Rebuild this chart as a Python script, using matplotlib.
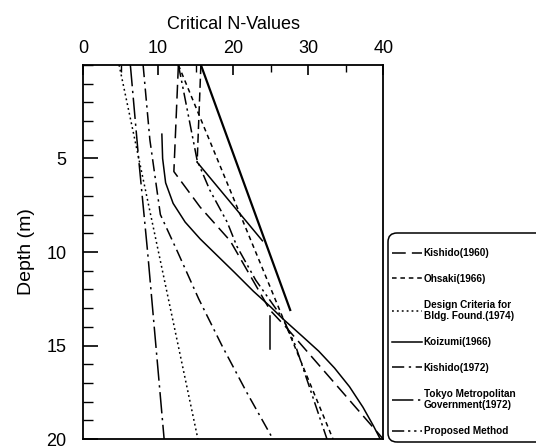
import matplotlib
matplotlib.use("Agg")
import matplotlib.pyplot as plt
from matplotlib.patches import FancyBboxPatch
import numpy as np

plt.rcParams['font.family'] = ['Liberation Sans', 'DejaVu Sans']

# curves: (N, depth) pairs
kishido60_n = [12.7, 12.1, 15.6, 19.6, 24.9, 27.0, 33.5, 40.0]
kishido60_z = [0.0, 5.7, 7.6, 9.4, 13.1, 14.0, 17.0, 20.0]

ohsaki_n = [12.7, 33.3]
ohsaki_z = [0.0, 20.0]

design_n = [4.8, 15.3]
design_z = [0.0, 20.0]

koizumi_n = [10.5, 10.6, 11.0, 12.0, 13.6, 15.6, 17.9, 20.2, 22.7, 24.9, 26.7,
             29.2, 31.4, 33.5, 35.5, 37.3, 38.7, 39.6]
koizumi_z = [3.7, 5.0, 6.3, 7.4, 8.4, 9.3, 10.2, 11.1, 12.1, 12.9, 13.6,
             14.5, 15.3, 16.2, 17.2, 18.3, 19.3, 20.0]

kishido72_n = [8.0, 8.9, 10.3, 12.6, 15.4, 18.5, 21.8, 25.3]
kishido72_z = [0.0, 4.0, 8.0, 10.0, 12.5, 15.0, 17.5, 20.0]

tokyo_n = [6.3, 7.4, 8.6, 9.7, 10.8]
tokyo_z = [0.0, 5.0, 10.0, 15.0, 20.0]
tokyo2_n = [15.7, 27.6]
tokyo2_z = [0.0, 13.1]

proposed_n = [12.7, 13.2, 15.2, 16.9, 19.2, 20.5, 23.0, 26.7, 28.3, 32.5]
proposed_z = [0.0, 1.0, 5.1, 6.7, 8.4, 9.7, 11.5, 13.6, 15.0, 20.0]
proposed2_n = [15.7, 15.2, 23.9]
proposed2_z = [0.0, 5.2, 9.4]
proposed3_n = [24.9, 24.9]
proposed3_z = [13.4, 15.2]

labels = ['Kishido(1960)', 'Ohsaki(1966)', 'Design Criteria for\nBldg. Found.(1974)',
          'Koizumi(1966)', 'Kishido(1972)', 'Tokyo Metropolitan\nGovernment(1972)',
          'Proposed Method']

fig = plt.figure(figsize=(5.36, 4.48), dpi=100)
ax = fig.add_axes([0.155, 0.02, 0.56, 0.835])

lw = 1.1
ax.plot(kishido60_n, kishido60_z, color='k', lw=lw, dashes=(9, 4), label=labels[0])
ax.plot(ohsaki_n, ohsaki_z, color='k', lw=lw, dashes=(3, 2.5), label=labels[1])
ax.plot(design_n, design_z, color='k', lw=lw, dashes=(1.2, 2), label=labels[2])
ax.plot(koizumi_n, koizumi_z, color='k', lw=lw, label=labels[3])
ax.plot(kishido72_n, kishido72_z, color='k', lw=lw, dashes=(8, 3, 1.5, 3), label=labels[4])
ax.plot(tokyo_n, tokyo_z, color='k', lw=lw, dashes=(14, 3, 1.5, 3), label=labels[5])
ax.plot(tokyo2_n, tokyo2_z, color='k', lw=1.6)
ax.plot(proposed_n, proposed_z, color='k', lw=lw, dashes=(8, 2.5, 1.5, 2.5, 1.5, 2.5),
        label=labels[6])
ax.plot(proposed2_n[:2], proposed2_z[:2], color='k', lw=lw, dashes=(6, 3))
ax.plot(proposed2_n[1:], proposed2_z[1:], color='k', lw=lw)
ax.plot(proposed3_n, proposed3_z, color='k', lw=lw)

ax.set_xlim(0, 40)
ax.set_ylim(20, 0)
ax.xaxis.tick_top()
ax.xaxis.set_label_position('top')
ax.set_xticks([0, 10, 20, 30, 40])
ax.set_xticks([5, 15, 25, 35], minor=True)
ax.set_yticks([5, 10, 15, 20])
ax.set_yticks(np.arange(0, 21, 1), minor=True)
ax.tick_params(axis='x', which='major', direction='in', length=7, width=1.2,
               labelsize=13, pad=6)
ax.tick_params(axis='x', which='minor', direction='in', length=5, width=1)
ax.tick_params(axis='y', which='major', direction='in', length=11, width=1.2,
               labelsize=13, pad=12)
ax.tick_params(axis='y', which='minor', direction='in', length=7, width=1)
ax.set_xlabel('Critical N-Values', fontsize=13, labelpad=8)
ax.set_ylabel('Depth (m)', fontsize=14, labelpad=8)
for s in ax.spines.values():
    s.set_linewidth(1.3)

# legend frame drawn by hand so the entries sit close to its left edge
frame = FancyBboxPatch((388, 6), 170, 209, boxstyle='round,pad=0,rounding_size=9',
                       transform=None, fill=False, edgecolor='k', linewidth=1.1)
fig.add_artist(frame)

leg = ax.legend(loc='upper left', bbox_to_anchor=(390 / 536, 1 - 246 / 448),
                bbox_transform=fig.transFigure, frameon=False,
                handlelength=3.0, handletextpad=0.15, labelspacing=1.58,
                borderpad=0.2, borderaxespad=0, prop={'weight': 'bold', 'size': 7.2})

fig.savefig('out.png', dpi=100)
